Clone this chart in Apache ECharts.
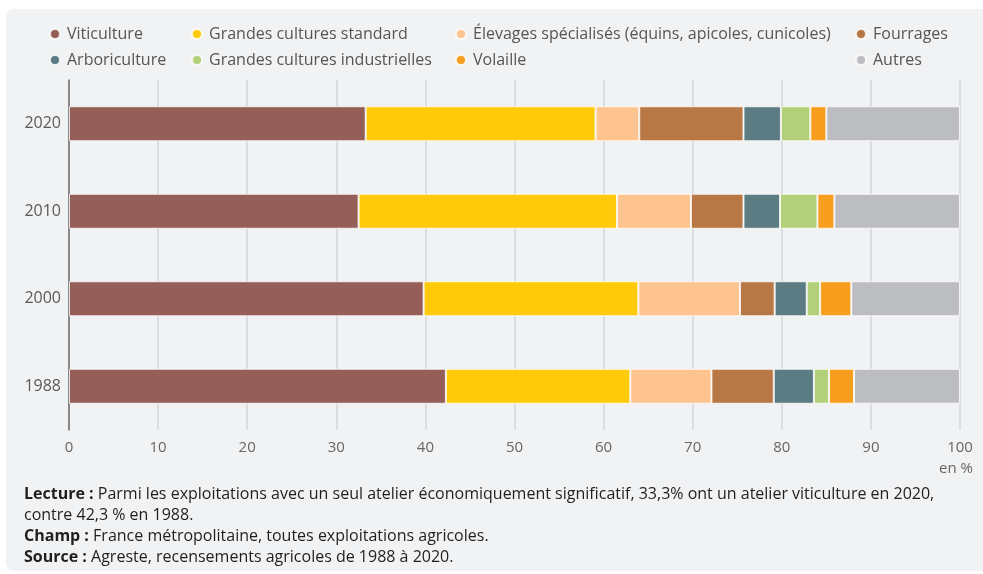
<!DOCTYPE html>
<html>
<head>
<meta charset="utf-8">
<script src="https://cdn.jsdelivr.net/npm/echarts@6/dist/echarts.min.js"></script>
<style>
html,body{margin:0;padding:0;background:#fff;}
#c{width:983px;height:574px;}
</style>
</head>
<body>
<div id="c"></div>
<script>
const years = ['1988', '2000', '2010', '2020'];
const seriesNames = [
  'Viticulture',
  'Grandes cultures standard',
  'Élevages spécialisés (équins, apicoles, cunicoles)',
  'Fourrages',
  'Arboriculture',
  'Grandes cultures industrielles',
  'Volaille',
  'Autres'
];
// values in % for 1988, 2000, 2010, 2020
const viticulture = [42.3, 39.8, 32.5, 33.3];
const grandesStandard = [20.7, 24.1, 29.0, 25.8];
const elevages = [9.1, 11.4, 8.3, 4.9];
const fourrages = [7.0, 3.9, 5.9, 11.7];
const arboriculture = [4.5, 3.6, 4.1, 4.2];
const grandesIndustrielles = [1.7, 1.5, 4.2, 3.3];
const volaille = [2.8, 3.5, 1.9, 1.8];
const autres = [11.9, 12.2, 14.1, 15.0];
const xTicks = [0, 10, 20, 30, 40, 50, 60, 70, 80, 90, 100];

const seriesValues = [viticulture, grandesStandard, elevages, fourrages, arboriculture, grandesIndustrielles, volaille, autres];
const colors = ['#955e59', '#ffca0a', '#fdc48f', '#b87846', '#5a7c82', '#b2d079', '#f89e1e', '#bcbdc0'];

const chart = echarts.init(document.getElementById('c'), null, {renderer: 'canvas'});
const FONT = '"Open Sans", sans-serif';
const legendCols = [
  {left: 44, names: [seriesNames[0], seriesNames[4]]},
  {left: 186, names: [seriesNames[1], seriesNames[5]]},
  {left: 450, names: [seriesNames[2], seriesNames[6]]},
  {left: 850, names: [seriesNames[3], seriesNames[7]]}
];
const rich = {b: {fontWeight: 'bold', fontSize: 16, fontFamily: FONT, fill: '#1f1f1f'}};

const option = {
  backgroundColor: '#ffffff',
  animation: false,
  color: colors,
  graphic: [
    {type: 'rect', z: -10, silent: true, shape: {x: 6, y: 9, width: 990, height: 562, r: 8}, style: {fill: '#f1f2f4'}},
    {type: 'text', left: 24, top: 486, style: {
      text: '{b|Lecture :} Parmi les exploitations avec un seul atelier économiquement significatif, 33,3% ont un atelier viticulture en 2020,',
      font: '16px ' + FONT, fill: '#1f1f1f', rich: rich
    }},
    {type: 'text', left: 24, top: 507, style: {
      text: 'contre 42,3 % en 1988.', font: '16px ' + FONT, fill: '#1f1f1f'
    }},
    {type: 'text', left: 24, top: 528, style: {
      text: '{b|Champ :} France métropolitaine, toutes exploitations agricoles.',
      font: '16px ' + FONT, fill: '#1f1f1f', rich: rich
    }},
    {type: 'text', left: 24, top: 549, style: {
      text: '{b|Source :} Agreste, recensements agricoles de 1988 à 2020.',
      font: '16px ' + FONT, fill: '#1f1f1f', rich: rich
    }},
    {type: 'text', right: 10, top: 461, style: {
      text: 'en %', font: '15px ' + FONT, fill: '#666666', textAlign: 'right'
    }}
  ],
  legend: legendCols.map(c => ({
    orient: 'vertical',
    left: c.left,
    top: 21,
    itemGap: 10,
    itemWidth: 10,
    itemHeight: 10,
    icon: 'circle',
    data: c.names,
    selectedMode: false,
    textStyle: {fontFamily: FONT, fontSize: 16, color: '#555555', lineHeight: 16, padding: [0, 0, 0, 2]}
  })),
  grid: {left: 69, right: 23, top: 80, bottom: 144, containLabel: false},
  xAxis: {
    type: 'value',
    min: 0, max: 100, interval: 10,
    axisLine: {show: false},
    axisTick: {show: false},
    splitLine: {show: true, lineStyle: {color: '#d3d4d6', width: 1.5}},
    axisLabel: {fontFamily: FONT, fontSize: 15, color: '#666666', margin: 10,
      formatter: v => xTicks.indexOf(v) >= 0 ? String(v) : ''}
  },
  yAxis: {
    type: 'category',
    data: years,
    axisLine: {show: true, lineStyle: {color: '#6e6e6e', width: 1.5}},
    axisTick: {show: false},
    axisLabel: {fontFamily: FONT, fontSize: 16, color: '#5a5a5a', margin: 8}
  },
  series: seriesNames.map((n, i) => ({
    name: n,
    type: 'bar',
    stack: 'total',
    barWidth: 35,
    data: seriesValues[i],
    itemStyle: {color: colors[i], borderColor: 'rgba(255,255,255,0.8)', borderWidth: 1}
  }))
};
chart.setOption(option);
</script>
</body>
</html>
